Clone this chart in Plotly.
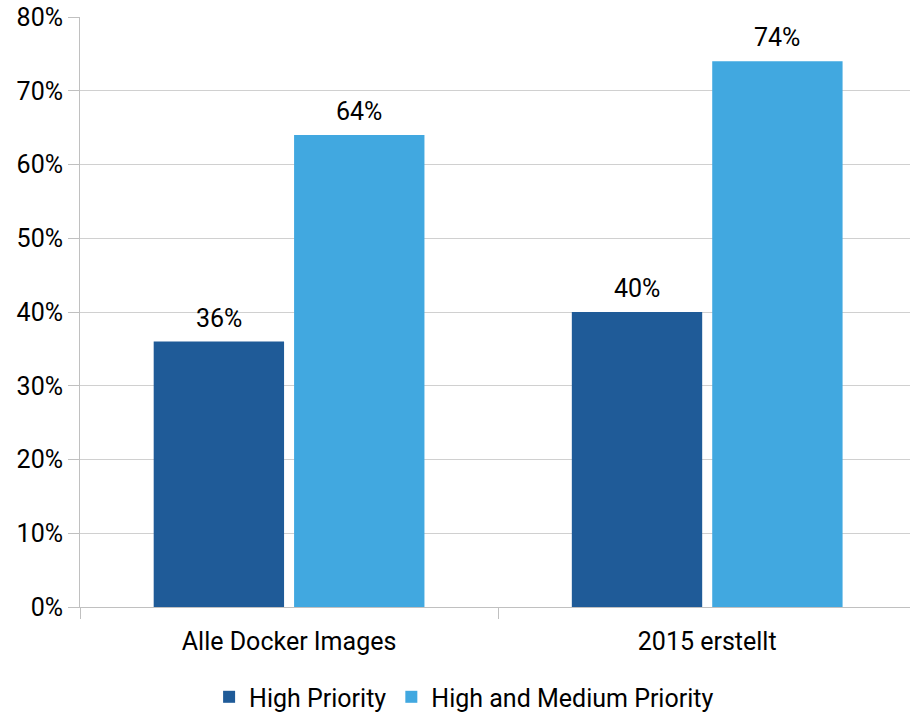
import plotly.graph_objects as go

categories = ["Alle Docker Images", "2015 erstellt"]
high_priority = [36, 40]
high_medium_priority = [64, 74]
series_names = ["High Priority", "High and Medium Priority"]
y_ticks = [0, 10, 20, 30, 40, 50, 60, 70, 80]
y_tick_labels = [f"{v}%" for v in y_ticks]

FONT = "Roboto, sans-serif"
FS = 25
fig = go.Figure()
series = [(series_names[0], high_priority, "#1F5B98", -70),
          (series_names[1], high_medium_priority, "#41A8E0", 70)]
for name, vals, col, dx in series:
    fig.add_trace(go.Bar(
        x=categories, y=vals, name=name, marker_color=col, marker_line_width=0,
    ))
    for c, v in zip(categories, vals):
        fig.add_annotation(x=c, y=v, text=f"{v}%", showarrow=False,
                           xshift=dx, yshift=7, yanchor="bottom",
                           font=dict(family=FONT, size=FS, color="#000000"))

fig.update_layout(
    width=910, height=712,
    margin=dict(l=80, r=0, t=17, b=105, autoexpand=False),
    paper_bgcolor="white", plot_bgcolor="white",
    barmode="group", bargap=0.3285, bargroupgap=0.0714,
    font=dict(family=FONT, size=FS, color="#000000"),
    showlegend=True,
    legend=dict(orientation="h", x=0.51, xanchor="center", xref="container",
                y=0.021, yanchor="middle", yref="container",
                font=dict(family=FONT, size=FS, color="#000000"),
                traceorder="normal"),
)
fig.update_xaxes(
    type="category", range=[-0.5, 1.485], tickson="boundaries",
    ticks="outside", ticklen=11, tickcolor="#c0c0c0", tickwidth=1,
    showline=True, linecolor="#c0c0c0", linewidth=1, automargin=False,
    showgrid=False, tickfont=dict(family=FONT, size=FS, color="#000000"),
    ticklabelstandoff=12,
)
fig.update_yaxes(
    range=[0, 80], tickvals=y_ticks, ticktext=y_tick_labels,
    ticks="outside", ticklen=11, tickcolor="#c0c0c0", tickwidth=1,
    showline=True, linecolor="#c0c0c0", linewidth=1, automargin=False,
    showgrid=True, gridcolor="#d0d0d0", gridwidth=1, zeroline=False,
    tickfont=dict(family=FONT, size=FS, color="#000000"),
)
fig.write_html("out.html")
